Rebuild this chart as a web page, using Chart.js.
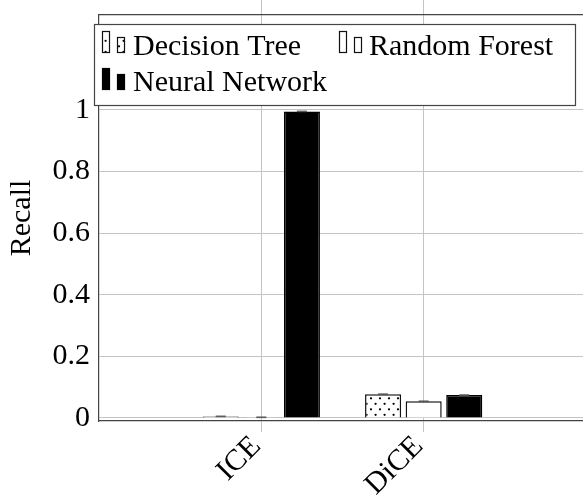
<!DOCTYPE html>
<html>
<head>
<meta charset="utf-8">
<script src="https://cdn.jsdelivr.net/npm/chart.js@4.4.0/dist/chart.umd.min.js"></script>
<style>
  html, body { margin: 0; padding: 0; overflow: hidden; background: #fff; }
  canvas { display: block; }
</style>
</head>
<body>
<canvas id="c" width="590" height="496"></canvas>
<script>
// Recall per explanation method, one bar per model
const categories = ['ICE', 'DiCE'];
const seriesNames = ['Decision Tree', 'Random Forest', 'Neural Network'];
const decisionTree = [0.005, 0.077];
const randomForest = [0.002, 0.054];
const neuralNetwork = [0.995, 0.074];
const decisionTreeErr = [0.001, 0.001];
const randomForestErr = [0.001, 0.001];
const neuralNetworkErr = [0.001, 0.001];
const yTicks = [0, 0.2, 0.4, 0.6, 0.8, 1];

const FONT = "'Liberation Serif', 'Times New Roman', serif";
Chart.defaults.font.family = FONT;
Chart.defaults.font.size = 30;
Chart.defaults.color = '#000';

const canvas = document.getElementById('c');
const ctx2d = canvas.getContext('2d');

// staggered dot fill for the decision tree bars
function makeDots() {
  const t = document.createElement('canvas');
  t.width = 9; t.height = 11;
  const g = t.getContext('2d');
  g.fillStyle = '#fff';
  g.fillRect(0, 0, 9, 11);
  g.fillStyle = '#000';
  [[2, 2.3], [6.6, 7.8]].forEach(([x, y]) => {
    g.beginPath();
    g.arc(x, y, 1.15, 0, Math.PI * 2);
    g.fill();
  });
  return ctx2d.createPattern(t, 'repeat');
}
const dots = makeDots();

// an empty slot on each side keeps the categories at 1/3 and 2/3 of the width
const labels = ['', ...categories, ''];
const pad = arr => [null, ...arr, null];

const GRID = '#c4c4c4';
const FRAME = '#444';
const edgeHidden = c => (c.index === 0 || c.index === labels.length - 1) ? 'rgba(0,0,0,0)' : GRID;

// fixed axis boxes, without the extra room Chart.js reserves for edge labels
const fixBox = (w, h) => s => {
  if (w != null) s.width = w;
  if (h != null) s.height = h;
  s.paddingLeft = 0; s.paddingRight = 0; s.paddingTop = 0; s.paddingBottom = 0;
};

const errorBars = {
  id: 'errorBars',
  afterDatasetsDraw(chart) {
    const ctx = chart.ctx;
    const y = chart.scales.y;
    ctx.save();
    ctx.strokeStyle = '#555';
    ctx.lineWidth = 1;
    chart.data.datasets.forEach((ds, i) => {
      const meta = chart.getDatasetMeta(i);
      meta.data.forEach((bar, j) => {
        const v = ds.data[j], e = ds.errors[j];
        if (v == null || e == null) return;
        const yt = y.getPixelForValue(v + e);
        const yb = y.getPixelForValue(v - e);
        const x = bar.x, w = 5;
        ctx.beginPath();
        ctx.moveTo(x, yt); ctx.lineTo(x, yb);
        ctx.moveTo(x - w, yt); ctx.lineTo(x + w, yt);
        ctx.moveTo(x - w, yb); ctx.lineTo(x + w, yb);
        ctx.stroke();
      });
    });
    ctx.restore();
  }
};

// boxed legend laid over the top of the plot
const boxLegend = {
  id: 'boxLegend',
  afterDraw(chart) {
    const ctx = chart.ctx;
    ctx.save();
    ctx.fillStyle = '#fff';
    ctx.fillRect(94.5, 24.5, 481, 81);
    ctx.strokeStyle = FRAME;
    ctx.lineWidth = 1.2;
    ctx.strokeRect(94.5, 24.5, 481, 81);
    const slots = [
      { x: 102, base: 53, tx: 133, ty: 55 },
      { x: 339, base: 53, tx: 369, ty: 55 },
      { x: 102, base: 90, tx: 133, ty: 91 }
    ];
    chart.data.datasets.forEach((ds, i) => {
      const s = slots[i];
      ctx.fillStyle = ds.backgroundColor;
      ctx.strokeStyle = ds.borderColor;
      ctx.lineWidth = 1.2;
      [[s.x, 22, 8], [s.x + 15, 16, 8]].forEach(([x, h, w]) => {
        ctx.fillRect(x, s.base - h, w, h);
        ctx.strokeRect(x + 0.5, s.base - h + 0.5, w - 1, h - 1);
      });
      ctx.fillStyle = '#000';
      ctx.font = '30px ' + FONT;
      ctx.textBaseline = 'alphabetic';
      ctx.textAlign = 'left';
      ctx.fillText(ds.label, s.tx, s.ty);
    });
    ctx.restore();
  }
};

new Chart(canvas, {
  type: 'bar',
  data: {
    labels: labels,
    datasets: [
      { label: seriesNames[0], data: pad(decisionTree), errors: pad(decisionTreeErr),
        backgroundColor: dots, borderColor: '#111', borderWidth: 1.5 },
      { label: seriesNames[1], data: pad(randomForest), errors: pad(randomForestErr),
        backgroundColor: '#fff', borderColor: '#111', borderWidth: 1.5 },
      { label: seriesNames[2], data: pad(neuralNetwork), errors: pad(neuralNetworkErr),
        backgroundColor: '#000', borderColor: '#000', borderWidth: 1.5 }
    ]
  },
  options: {
    responsive: false,
    animation: false,
    devicePixelRatio: 1,
    categoryPercentage: 0.75,
    barPercentage: 0.889,
    layout: { padding: { top: 0, right: 4, bottom: 0, left: 0 } },
    plugins: { legend: { display: false }, tooltip: { enabled: false } },
    scales: {
      x: {
        position: 'bottom',
        offset: false,
        grid: { offset: false, color: edgeHidden, tickColor: edgeHidden, tickLength: 11, lineWidth: 1 },
        border: { display: true, color: FRAME, width: 1.3 },
        ticks: { autoSkip: false, minRotation: 45, maxRotation: 45, padding: -3, labelOffset: -5,
                 font: { size: 30 }, color: '#000' },
        afterFit: fixBox(null, 75)
      },
      xTop: {
        position: 'top',
        offset: false,
        grid: { offset: false, drawOnChartArea: false, color: edgeHidden, tickColor: edgeHidden, tickLength: 15 },
        border: { display: true, color: FRAME, width: 1.2 },
        ticks: { display: false },
        afterFit: fixBox(null, 15)
      },
      y: {
        min: -0.01,
        max: 1.308,
        grid: { color: GRID, drawTicks: false, lineWidth: 1 },
        border: { display: true, color: FRAME, width: 1.2 },
        afterBuildTicks: s => { s.ticks = yTicks.map(v => ({ value: v })); },
        ticks: { padding: 9, font: { size: 30 }, color: '#000',
                 callback: v => String(+Number(v).toFixed(2)) },
        title: { display: true, text: 'Recall', font: { size: 30 }, color: '#000',
                 padding: { top: 4, bottom: 0 } },
        afterFit: fixBox(99, null)
      }
    }
  },
  plugins: [errorBars, boxLegend]
});
</script>
</body>
</html>
